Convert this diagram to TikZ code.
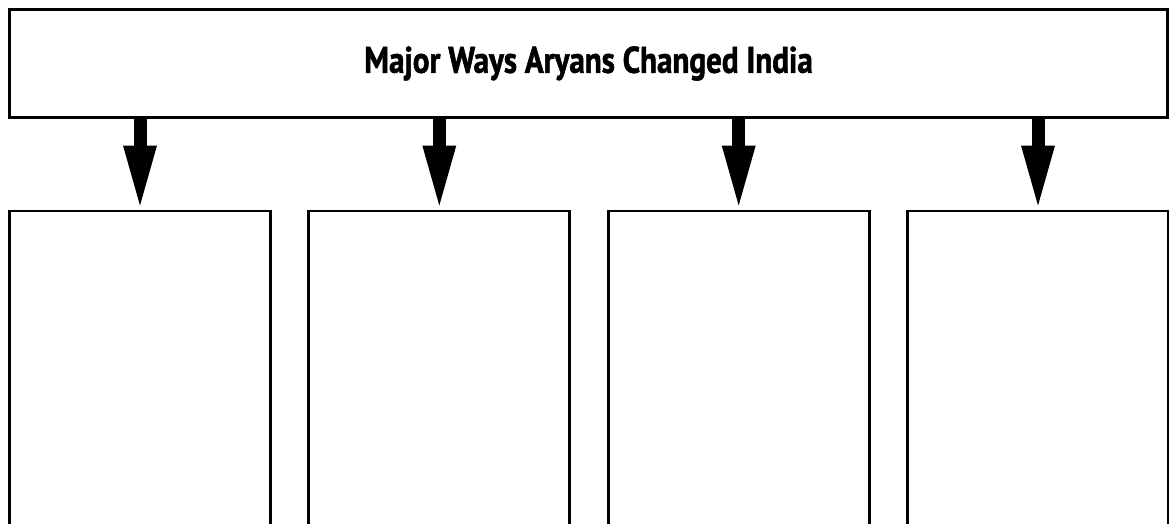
\documentclass[tikz,border=0pt]{standalone}
\usepackage{fontspec}
\newfontfamily\titlefont[FakeStretch=0.84,FakeBold=1.5]{PT Sans}
\usetikzlibrary{arrows.meta}
\begin{document}
\begin{tikzpicture}[x=1pt,y=-1pt,
  frame/.style={draw=black,line width=2.8pt,fill=white,inner sep=0pt},
  topbox/.style={frame,minimum width=1158pt,minimum height=108pt,
    font=\titlefont\bfseries\fontsize{37}{40}\selectfont},
  slot/.style={frame,minimum width=261pt,minimum height=360pt,anchor=north},
  bigarrow/.style={line width=13pt,
    -{Triangle[width=34pt,length=60pt,line width=0pt]},shorten >=4pt}]
\useasboundingbox (0,0) rectangle (1169,523);
\node[topbox] (title) at (588.5,63.5) {Major Ways Aryans Changed India};
\node[slot] (b1) at (140,209.5) {};
\node[slot] (b2) at (439.3,209.5) {};
\node[slot] (b3) at (738.7,209.5) {};
\node[slot] (b4) at (1038,209.5) {};
\foreach \i in {1,2,3,4}{
  \draw[bigarrow] (title.south -| b\i.north) -- (b\i.north);
}
\end{tikzpicture}
\end{document}
